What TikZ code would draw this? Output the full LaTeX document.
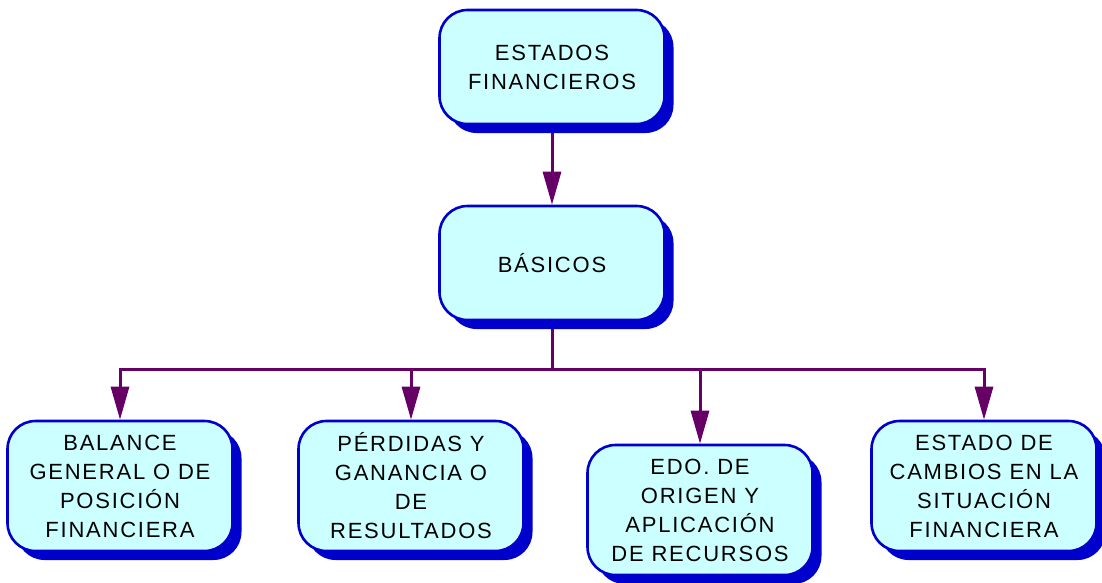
\documentclass[tikz,border=0pt]{standalone}
\usepackage{fontspec}
\setmainfont{Liberation Sans}[LetterSpace=8]
\usetikzlibrary{arrows.meta,shadows,backgrounds}
\definecolor{cajafondo}{HTML}{CCFFFF}
\definecolor{cajaborde}{HTML}{0000CC}
\definecolor{morado}{HTML}{660066}

\begin{document}
\begin{tikzpicture}[x=1pt,y=-1pt,
  caja/.style={draw=cajaborde,line width=2.6pt,fill=cajafondo,rounded corners=28pt,
    minimum width=225pt,align=center,font=\fontsize{22}{29}\selectfont,
    drop shadow={shadow xshift=9pt,shadow yshift=-9pt,fill=cajaborde,opacity=1}},
  alta/.style={caja,minimum height=114pt},
  baja/.style={caja,minimum height=130pt},
  flecha/.style={morado,line width=3pt,-{Triangle[length=33pt,width=18pt]}}]

\useasboundingbox (0,0) rectangle (1102,583);

\node[alta] (ef) at (552,67) {ESTADOS\\FINANCIEROS};
\node[alta] (bas) at (552,263) {BÁSICOS};

\node[baja] (bal) at (120,486) {BALANCE\\GENERAL O DE\\POSICIÓN\\FINANCIERA};
\node[baja] (per) at (411,486) {PÉRDIDAS Y\\GANANCIA O\\DE\\RESULTADOS};
\node[baja] (edo) at (700,510) {EDO. DE\\ORIGEN Y\\APLICACIÓN\\DE RECURSOS};
\node[baja] (cam) at (984,486) {ESTADO DE\\CAMBIOS EN LA\\SITUACIÓN\\FINANCIERA};

\coordinate (bus) at (552,369);

\begin{scope}[on background layer]
\draw[flecha] (ef) -- (bas);
\draw[morado,line width=3pt] (bas) -- (bus);
\draw[flecha] (bus) -| (bal.north);
\draw[flecha] (bus) -| (per.north);
\draw[flecha] (bus) -| (edo.north);
\draw[flecha] (bus) -| (cam.north);
\end{scope}
\end{tikzpicture}
\end{document}
